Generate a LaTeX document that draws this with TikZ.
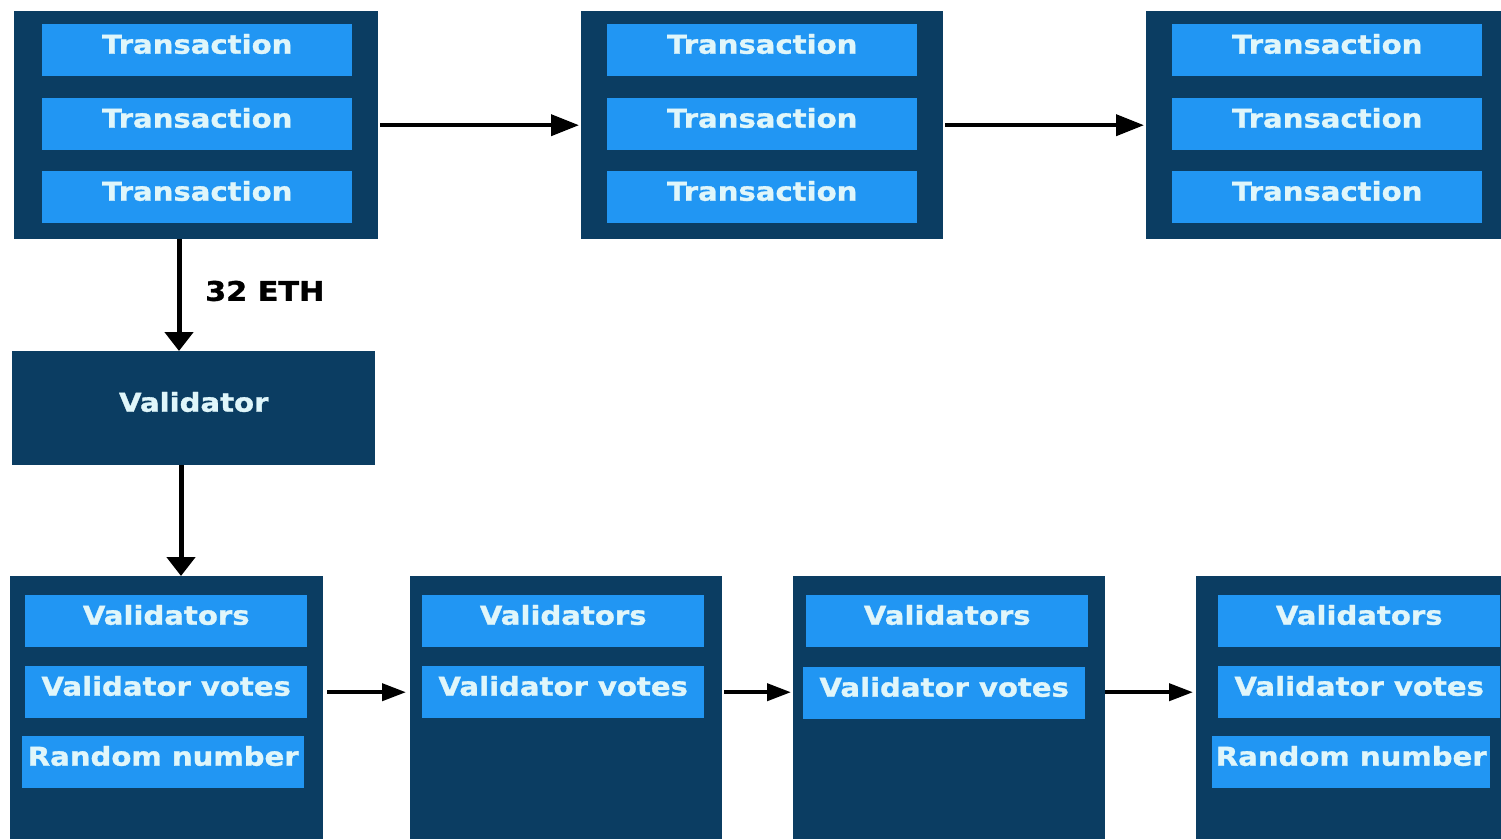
\documentclass[tikz,border=0pt]{standalone}
\usepackage{fontspec}
\newfontfamily\lblfont[FakeStretch=1.12, FakeBold=1.2]{DejaVu Sans}
\usetikzlibrary{arrows.meta}
\definecolor{navy}{RGB}{11,61,98}
\definecolor{cellblue}{RGB}{33,150,243}
\definecolor{celltext}{RGB}{224,246,250}
\begin{document}
\begin{tikzpicture}[x=1pt,y=-1pt,
  block/.style={fill=navy, draw=none, rectangle, anchor=north west, inner sep=0pt},
  cell/.style={fill=cellblue, draw=none, rectangle, anchor=north west, inner sep=0pt,
    text=celltext, font=\lblfont\bfseries\fontsize{26}{26}\selectfont,
    text height=19pt, text depth=12pt},
  txcell/.style={cell, minimum width=310pt, minimum height=52pt},
  vcell/.style={cell, minimum width=282pt, minimum height=52pt},
  harr/.style={line width=4pt, -{Triangle[length=28pt,width=21pt]}},
  barr/.style={line width=4pt, -{Triangle[length=24pt,width=17pt]}},
  varr/.style={line width=5pt, -{Triangle[length=19pt,width=28pt]}},
]
\useasboundingbox (0,0) rectangle (1501,839);

% transaction blocks
\node[block, minimum width=364pt, minimum height=228pt] (T1) at (14,11) {};
\node[txcell] (T1a) at (42,24) {Transaction};
\node[txcell] (T1b) at (42,98) {Transaction};
\node[txcell] (T1c) at (42,171) {Transaction};

\node[block, minimum width=362pt, minimum height=228pt] (T2) at (581,11) {};
\node[txcell] (T2a) at (607,24) {Transaction};
\node[txcell] (T2b) at (607,98) {Transaction};
\node[txcell] (T2c) at (607,171) {Transaction};

\node[block, minimum width=355pt, minimum height=228pt] (T3) at (1146,11) {};
\node[txcell] (T3a) at (1172,24) {Transaction};
\node[txcell] (T3b) at (1172,98) {Transaction};
\node[txcell] (T3c) at (1172,171) {Transaction};

\draw[harr, shorten <=2pt, shorten >=2pt] (T1.east) -- (T2.west);
\draw[harr, shorten <=2pt, shorten >=2pt] (T2.east) -- (T3.west);

% validator
\node[cell, fill=navy, minimum width=363pt, minimum height=114pt] (V) at (12,351) {Validator};
\coordinate (dropA) at (179,0);
\coordinate (dropB) at (181,0);
\draw[varr] (T1.south -| dropA) -- (V.north -| dropA);
\node[anchor=west, inner sep=0pt, font=\lblfont\bfseries\fontsize{27}{27}\selectfont] (eth) at (205,291) {32 ETH};

% beacon blocks
\node[block, minimum width=313pt, minimum height=263pt] (B1) at (10,576) {};
\node[vcell] (B1a) at (25,595) {Validators};
\node[vcell] (B1b) at (25,666) {Validator votes};
\node[vcell] (B1c) at (22,736) {Random number};

\node[block, minimum width=312pt, minimum height=263pt] (B2) at (410,576) {};
\node[vcell] (B2a) at (422,595) {Validators};
\node[vcell] (B2b) at (422,666) {Validator votes};

\node[block, minimum width=312pt, minimum height=263pt] (B3) at (793,576) {};
\node[vcell] (B3a) at (806,595) {Validators};
\node[vcell] (B3b) at (803,667) {Validator votes};

\node[block, minimum width=305pt, minimum height=263pt] (B4) at (1196,576) {};
\node[vcell] (B4a) at (1218,595) {Validators};
\node[vcell] (B4b) at (1218,666) {Validator votes};
\node[vcell, minimum width=278pt] (B4c) at (1212,736) {Random number};

\draw[varr] (V.south -| dropB) -- (B1.north -| dropB);
\draw[barr, shorten <=4pt, shorten >=4pt] (B1.east |- B1b.east) -- (B2.west |- B1b.east);
\draw[barr, shorten <=2pt, shorten >=2pt] (B2.east |- B1b.east) -- (B3.west |- B1b.east);
\draw[barr, shorten >=3pt] (B3.east |- B1b.east) -- (B4.west |- B1b.east);
\end{tikzpicture}
\end{document}
